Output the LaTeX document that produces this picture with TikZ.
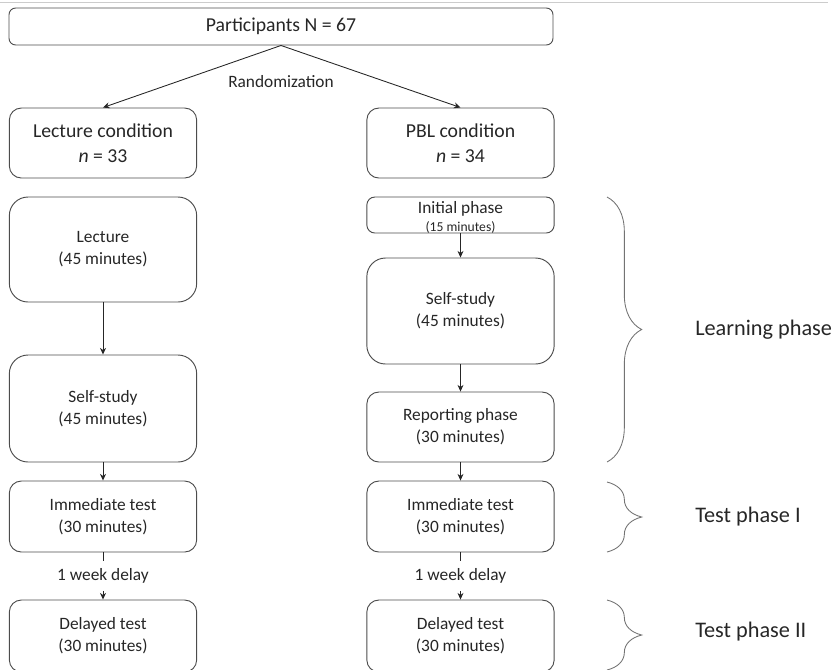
\documentclass[tikz,border=0pt]{standalone}
\usepackage{fontspec}
\setmainfont{Carlito}
\usepackage{tikz}
\usetikzlibrary{arrows, arrows.meta, positioning, decorations.pathreplacing}

\begin{document}
\begin{tikzpicture}[
    x=0.75pt, y=-0.75pt,
    every node/.style={text=black!85},
    box/.style={draw=black!70, line width=0.7pt, rectangle, rounded corners=9pt, minimum width=140.5pt, minimum height=52.5pt, align=center, inner sep=0pt, font=\fontsize{13}{16.5}\selectfont},
    bigbox/.style={box, rounded corners=14pt},
    condbox/.style={box, font=\fontsize{14.8}{18.5}\selectfont},
    topbox/.style={box, rounded corners=5pt, minimum width=408pt, minimum height=27.75pt, font=\fontsize{14.8}{18.5}\selectfont},
    delay/.style={fill=white, inner sep=0pt, minimum height=23pt, font=\fontsize{13}{16}\selectfont},
    arrow/.style={->,>={Stealth[length=5pt,width=4.5pt]}, line width=0.65pt, draw=black!85},
    phasebrace/.style={decorate, decoration={brace, amplitude=26pt}, draw=black!55, line width=0.65pt},
    phase/.style={anchor=west, inner sep=0pt, font=\fontsize{16.7}{20}\selectfont}
]
\useasboundingbox (0,0) rectangle (835,669);
\clip (0,0) rectangle (835,669);
\draw[black!20, line width=0.6pt] (0,2) -- (828,2);

% top and conditions
\node (part) [topbox] at (281,26.5) {Participants N = 67};
\node (lcond) [condbox] at (103,143) {Lecture condition\\\textit{n} = 33};
\node (pcond) [condbox] at (460.5,143) {PBL condition\\\textit{n} = 34};
\draw[arrow] (part.south) -- (lcond.north);
\draw[arrow] (part.south) -- (pcond.north);
\node (rand) [font=\fontsize{13}{16}\selectfont] at (281,82) {Randomization};

% lecture column
\node (lect) [bigbox, minimum height=78.75pt] at (103,249.5) {Lecture\\(45 minutes)};
\node (lself) [bigbox, minimum height=80.25pt] at (103,408.5) {Self-study\\(45 minutes)};
\node (limm) [box, minimum height=53.25pt] at (103,516.5) {Immediate test\\(30 minutes)};
\node (ldel) [box, minimum height=54pt] at (103,636) {Delayed test\\(30 minutes)};

% PBL column
\node (pinit) [box, rounded corners=6pt, minimum height=27pt, text depth=0pt] at (460.5,215) {\raisebox{-2pt}{Initial phase}\\[-3pt]\raisebox{-2pt}{\fontsize{10.2}{12}\selectfont (15 minutes)}};
\node (pself) [bigbox, minimum height=79.5pt] at (460.5,311) {Self-study\\(45 minutes)};
\node (prep) [box, minimum height=52.5pt] at (460.5,427) {Reporting phase\\(30 minutes)};
\node (pimm) [box, minimum height=53.25pt] at (460.5,516.5) {Immediate test\\(30 minutes)};
\node (pdel) [box, minimum height=54pt] at (460.5,636) {Delayed test\\(30 minutes)};

\foreach \a/\b in {lect/lself, lself/limm, pinit/pself, pself/prep, prep/pimm}
  \draw[arrow] (\a) -- (\b);
\draw[arrow] (limm) -- node[delay] (ldelay) {1 week delay} (ldel);
\draw[arrow] (pimm) -- node[delay] (pdelay) {1 week delay} (pdel);

% phases
\draw[phasebrace] (607,197) -- (607,462);
\draw[phasebrace] (607,482) -- (607,552);
\draw[phasebrace] (607,600) -- (607,670);
\node (learn) [phase] at (695,330) {Learning phase};
\node (test1) [phase] at (695,517) {Test phase I};
\node (test2) [phase] at (695,632) {Test phase II};
\end{tikzpicture}
\end{document}
